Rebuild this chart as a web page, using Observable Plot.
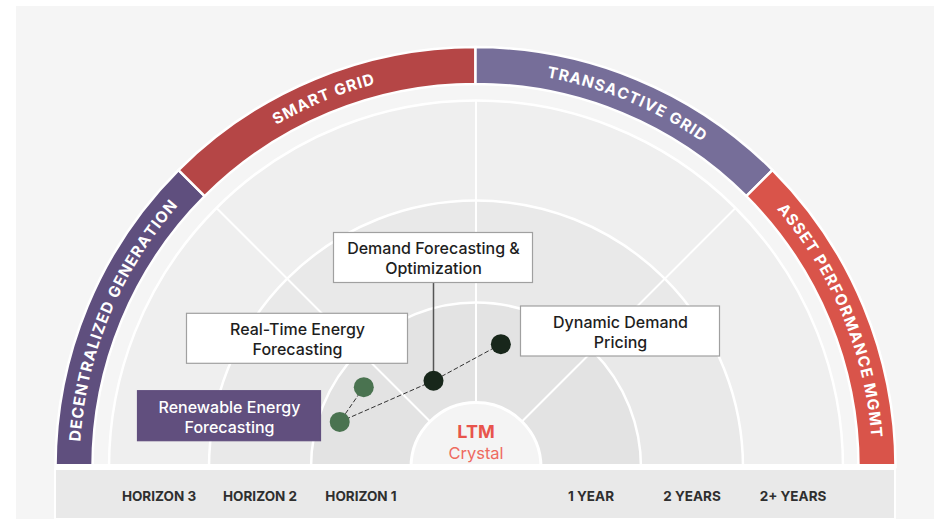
<!DOCTYPE html>
<html>
<head>
<meta charset="utf-8">
<script src="https://cdn.jsdelivr.net/npm/d3@7"></script>
<script src="https://cdn.jsdelivr.net/npm/@observablehq/plot@0.6"></script>
<style>
  html, body { margin: 0; padding: 0; background: #ffffff; }
  #chart { position: absolute; left: 16px; top: 6px; width: 918px; height: 513px; background: #f5f5f5; }
  #chart svg { display: block; }
</style>
</head>
<body>
<div id="chart"></div>
<script>
// ---------------- data ----------------
const sectors = ["DECENTRALIZED GENERATION", "SMART GRID", "TRANSACTIVE GRID", "ASSET PERFORMANCE MGMT"];
const sectorStartDeg = [180, 135, 90, 45];
const sectorEndDeg = [135, 90, 45, 0];
const sectorColors = ["#5f4f7e", "#b54646", "#766e99", "#d9544a"];

const ringRadii = [367, 267, 165];          // outer edge of horizon 3, 2, 1
const ringFills = ["#efefef", "#e9e9e9", "#e3e3e3"];
const coreRadius = 65;
const bandInner = 383, bandOuter = 420, bandLabelRadius = 401.5;
const spokeAngles = [45, 90, 135];

const horizonLabels = ["HORIZON 3", "HORIZON 2", "HORIZON 1", "1 YEAR", "2 YEARS", "2+ YEARS"];
const horizonSide = [-1, -1, -1, 1, 1, 1];
const horizonRing = [3, 2, 1, 1, 2, 3];

const hubLabels = ["LTM", "Crystal"];

const items = ["Renewable Energy\nForecasting", "Real-Time Energy\nForecasting", "Demand Forecasting &\nOptimization", "Dynamic Demand\nPricing"];
const itemAngle = [161.5, 144.4, 116.1, 78.6];   // degrees, 0 = right, 90 = up
const itemRadius = [143.7, 138.0, 96.6, 125.8];
const itemTone = ["emerging", "emerging", "core", "core"];
const pathOrder = [1, 0, 2, 3];

// annotation boxes (chart units, relative to the hub)
const boxX = [-246.5, -178.5, -42.5, 144.5];
const boxY = [51.3, 128.7, 209.5, 136];
const boxW = [183, 221, 199, 199];
const boxH = [50, 50, 50, 50];
const boxFill = ["#614f7e", "#ffffff", "#ffffff", "#ffffff"];
const boxText = ["#ffffff", "#1e1e1e", "#1e1e1e", "#1e1e1e"];
const connectorItem = [2];

// ---------------- derived tables ----------------
const rad = d => d * Math.PI / 180;
const ringData = ringRadii.map((r, i) => ({r, fill: ringFills[i]}));
const itemData = items.map((name, i) => ({
  name,
  x: itemRadius[i] * Math.cos(rad(itemAngle[i])),
  y: itemRadius[i] * Math.sin(rad(itemAngle[i])),
  fill: itemTone[i] === "emerging" ? "#4a7350" : "#18271b"
}));
const boxData = items.map((name, i) => ({
  name, x1: boxX[i] - boxW[i] / 2, x2: boxX[i] + boxW[i] / 2,
  y1: boxY[i] - boxH[i] / 2, y2: boxY[i] + boxH[i] / 2,
  cx: boxX[i], cy: boxY[i], fill: boxFill[i], color: boxText[i]
}));
const horizonData = horizonLabels.map((label, i) => {
  const k = horizonRing[i];
  const outer = ringRadii[3 - k];
  const inner = k === 1 ? coreRadius : ringRadii[4 - k];
  return {label, x: horizonSide[i] * (outer + inner) / 2};
});

// curved band labels: one glyph per text mark datum, rotated along the arc
const bandFontSize = 15.5, bandSpacing = 1.2;
const ctx = document.createElement("canvas").getContext("2d");
ctx.font = `700 ${bandFontSize}px Inter`;
const bandLetters = [];
sectors.forEach((label, s) => {
  const chars = Array.from(label);
  const widths = chars.map(c => ctx.measureText(c).width);
  const total = d3.sum(widths) + bandSpacing * (chars.length - 1);
  const mid = (sectorStartDeg[s] + sectorEndDeg[s]) / 2;
  let pos = 0;
  chars.forEach((c, j) => {
    const s0 = pos + widths[j] / 2 - total / 2;
    pos += widths[j] + bandSpacing;
    const theta = mid - (s0 / bandLabelRadius) * 180 / Math.PI;
    bandLetters.push({
      c, x: bandLabelRadius * Math.cos(rad(theta)), y: bandLabelRadius * Math.sin(rad(theta)), rotate: 90 - theta
    });
  });
});

// band sectors drawn through Plot's x/y scales
function bandMark() {
  return Plot.text(sectors, {
    x: () => 0, y: () => 0,
    render(index, scales) {
      const X0 = scales.x(0), Y0 = scales.y(0), k = scales.x(1) - scales.x(0);
      const g = d3.create("svg:g").attr("transform", `translate(${X0},${Y0})`);
      const arc = d3.arc();
      const toD3 = deg => rad(90 - deg);
      for (const i of index) {
        g.append("path")
          .attr("d", arc({innerRadius: bandInner * k, outerRadius: bandOuter * k,
                          startAngle: toD3(sectorStartDeg[i]), endAngle: toD3(sectorEndDeg[i])}))
          .attr("fill", sectorColors[i]).attr("stroke", "#ffffff").attr("stroke-width", 2.5);
      }
      return g.node();
    }
  });
}

const chart = Plot.plot({
  width: 918, height: 513, margin: 0,
  x: {domain: [-459.5, 458.5], range: [0, 918], axis: null},
  y: {domain: [-52, 461], range: [513, 0], axis: null},
  r: {type: "identity"},
  style: {background: "transparent", fontFamily: "Inter, sans-serif", overflow: "visible"},
  marks: [
    // horizon rings
    Plot.dot(ringData, {x: () => 0, y: () => 0, r: "r", fill: "fill", stroke: "#ffffff", strokeWidth: 2.5}),
    // spokes
    Plot.link(spokeAngles, {
      x1: a => coreRadius * Math.cos(rad(a)), y1: a => coreRadius * Math.sin(rad(a)),
      x2: a => ringRadii[0] * Math.cos(rad(a)), y2: a => ringRadii[0] * Math.sin(rad(a)),
      stroke: "#ffffff", strokeWidth: 2
    }),
    // hub
    Plot.dot([coreRadius], {x: () => 0, y: () => 0, r: d => d, fill: "#f4f4f4", stroke: "#ffffff", strokeWidth: 3}),
    // outer bands with curved labels
    bandMark(),
    Plot.text(bandLetters, {x: "x", y: "y", text: "c", rotate: "rotate", fill: "#ffffff",
      fontSize: bandFontSize, fontWeight: 700, textAnchor: "middle", lineAnchor: "middle"}),
    // white strip + bottom panel
    Plot.rect([0], {x1: -420.5, x2: 419.5, y1: -2, y2: 3, fill: "#ffffff"}),
    Plot.rect([0], {x1: -420.5, x2: 419.5, y1: -52, y2: -2, fill: "#e9e9e9", stroke: "#ffffff", strokeWidth: 2}),
    Plot.text(horizonData, {x: "x", y: () => -29.5, text: "label", fontSize: 13.5, fontWeight: 700, fill: "#2f2f2f"}),
    // hub labels
    Plot.text([hubLabels[0]], {x: () => 0, y: () => 35.5, text: d => d, fontSize: 18, fontWeight: 700, fill: "#e8544c", letterSpacing: 3.5}),
    Plot.text([hubLabels[1]], {x: () => 0, y: () => 13.5, text: d => d, fontSize: 16.5, fill: "#ee6a60"}),
    // dashed path between items
    Plot.line(pathOrder.map(i => itemData[i]), {x: "x", y: "y", stroke: "#333333", strokeWidth: 1, strokeDasharray: "4 3"}),
    // connector to label box
    Plot.link(connectorItem.map(i => ({a: itemData[i], b: boxData[i]})), {
      x1: d => d.a.x, y1: d => d.a.y, x2: d => d.b.cx, y2: d => d.b.y1, stroke: "#555555", strokeWidth: 1.5
    }),
    // label boxes
    Plot.rect(boxData, {x1: "x1", x2: "x2", y1: "y1", y2: "y2", fill: "fill",
      stroke: d => d.fill === "#ffffff" ? "#a0a0a0" : d.fill, strokeWidth: 1.2}),
    Plot.text(boxData, {x: "cx", y: "cy", text: "name", fill: "color", fontSize: 16, lineHeight: 1.25, fontWeight: 500}),
    // items
    Plot.dot(itemData, {x: "x", y: "y", r: () => 10, fill: "fill"})
  ]
});
document.getElementById("chart").appendChild(chart);
</script>
</body>
</html>
